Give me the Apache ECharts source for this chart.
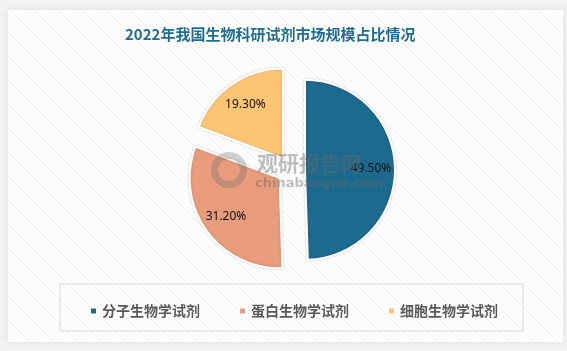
<!DOCTYPE html>
<html>
<head>
<meta charset="utf-8">
<script src="https://cdn.jsdelivr.net/npm/echarts@6/dist/echarts.min.js"></script>
<style>
  html, body { margin: 0; padding: 0; background: #f3f3f3; }
  #main { width: 567px; height: 351px; }
</style>
</head>
<body>
<div id="main"></div>
<script>
// 数据
const categories = ['分子生物学试剂', '蛋白生物学试剂', '细胞生物学试剂'];
const shares = [49.5, 31.2, 19.3];
const colors = ['#1c6a8e', '#e89c7b', '#fec575'];

const titleText = '2022年我国生物科研试剂市场规模占比情况';

// 底纹斜线
function hatch() {
  const c = document.createElement('canvas');
  c.width = 6; c.height = 6;
  const ctx = c.getContext('2d');
  ctx.fillStyle = '#ffffff';
  ctx.fillRect(0, 0, 6, 6);
  ctx.strokeStyle = '#f1f1f1';
  ctx.lineWidth = 1;
  ctx.beginPath();
  ctx.moveTo(0, 0); ctx.lineTo(6, 6);
  ctx.moveTo(-3, 3); ctx.lineTo(3, 9);
  ctx.moveTo(3, -3); ctx.lineTo(9, 3);
  ctx.stroke();
  return c;
}

const chart = echarts.init(document.getElementById('main'));

const pieData = categories.map((name, i) => ({
  name,
  value: shares[i],
  selected: true,
  itemStyle: {color: colors[i]}
}));

const labelData = categories.map((name, i) => ({
  name,
  value: shares[i],
  selected: true
}));

const wmColor = 'rgba(105,105,105,0.42)';

chart.setOption({
  animation: false,
  color: colors,
  graphic: [
    {
      type: 'rect', z: -10, silent: true,
      shape: {x: 8, y: 10, width: 555, height: 332},
      style: {fill: {image: hatch(), repeat: 'repeat'}, shadowBlur: 8, shadowColor: 'rgba(0,0,0,0.08)'}
    },
    {
      type: 'rect', z: -5, silent: true,
      shape: {x: 60, y: 284, width: 463, height: 47},
      style: {fill: 'none', stroke: '#d6d6d6', lineWidth: 1}
    },
    {
      type: 'text', z: 100, silent: true,
      style: {
        text: '观研报告网', x: 257, y: 163, verticalAlign: 'middle',
        fontSize: 21, fontWeight: 'bold', fontFamily: '"Noto Sans CJK SC"', fill: wmColor
      }
    },
    {
      type: 'text', z: 100, silent: true,
      style: {
        text: 'chinabaogao.com', x: 255, y: 184, verticalAlign: 'middle',
        fontSize: 13, fontWeight: 'bold', fontFamily: '"DejaVu Sans"', fill: wmColor
      }
    },
    {
      type: 'ring', z: 100, silent: true,
      shape: {cx: 229, cy: 170, r: 18, r0: 11},
      style: {fill: 'rgba(105,105,105,0.3)'}
    }
  ],
  title: {
    text: titleText,
    left: 120,
    top: 22,
    textStyle: {
      color: '#1f6d90',
      fontSize: 15,
      fontWeight: 'bold',
      fontFamily: '"Noto Sans CJK SC"'
    }
  },
  legend: {
    data: categories,
    left: 84,
    top: 299,
    icon: 'rect',
    itemWidth: 7,
    itemHeight: 7,
    itemGap: 38,
    textStyle: {
      color: '#595959',
      fontSize: 14,
      fontWeight: 'bold',
      fontFamily: '"Noto Sans CJK SC"'
    }
  },
  series: [
    {
      type: 'pie',
      center: [291, 170],
      radius: [0, 90],
      startAngle: 90,
      clockwise: true,
      selectedMode: 'multiple',
      selectedOffset: 14,
      silent: true,
      label: {show: false},
      labelLine: {show: false},
      itemStyle: {
        borderColor: '#ffffff',
        borderWidth: 2,
        shadowBlur: 3,
        shadowColor: 'rgba(0,0,0,0.15)'
      },
      emphasis: {disabled: true},
      data: pieData
    },
    {
      type: 'pie',
      center: [291, 170],
      radius: [36, 90],
      startAngle: 90,
      clockwise: true,
      selectedMode: 'multiple',
      selectedOffset: 14,
      silent: true,
      z: 5,
      itemStyle: {color: 'rgba(0,0,0,0)', borderWidth: 0},
      label: {
        show: true,
        position: 'inside',
        formatter: p => p.value.toFixed(2) + '%',
        color: '#111111',
        fontSize: 12,
        fontFamily: '"Noto Sans"'
      },
      labelLine: {show: false},
      emphasis: {disabled: true},
      data: labelData
    }
  ]
});
</script>
</body>
</html>
